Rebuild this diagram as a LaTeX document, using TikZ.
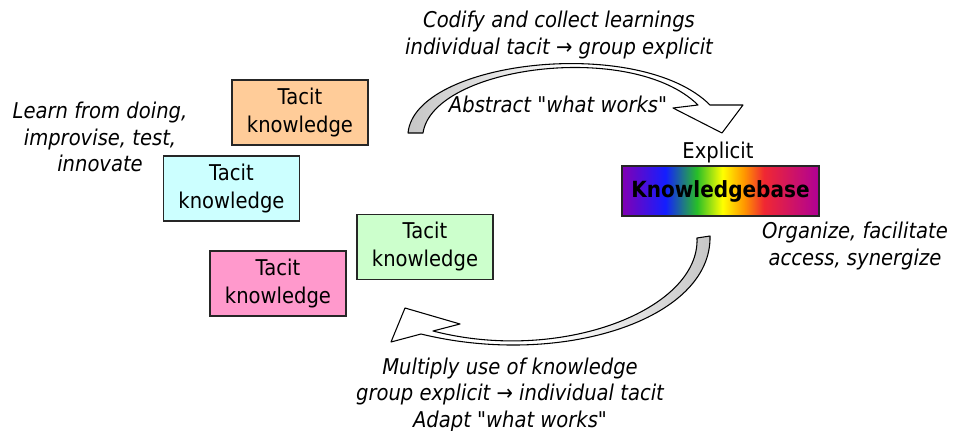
\documentclass[tikz,border=0pt]{standalone}
\usepackage{fontspec}
\setmainfont{DejaVu Sans}[FakeStretch=0.9, Ligatures=TeXOff]
\definecolor{kbA}{RGB}{130,0,180}
\definecolor{kbB}{RGB}{20,30,255}
\definecolor{kbC}{RGB}{40,190,40}
\definecolor{kbD}{RGB}{255,255,0}
\definecolor{kbE}{RGB}{255,150,0}
\definecolor{kbF}{RGB}{240,40,50}
\definecolor{kbG}{RGB}{175,0,150}
\definecolor{tacitOrange}{RGB}{255,204,153}
\definecolor{tacitCyan}{RGB}{204,255,255}
\definecolor{tacitGreen}{RGB}{204,255,204}
\definecolor{tacitPink}{RGB}{255,153,204}
\pgfdeclarehorizontalshading{rainbow}{100bp}{color(0bp)=(kbA); color(25bp)=(kbA); color(36bp)=(kbB); color(44bp)=(kbC); color(50.5bp)=(kbD); color(56bp)=(kbE); color(61bp)=(kbF); color(75bp)=(kbG); color(100bp)=(kbG)}
\newcommand{\dq}{\symbol{34}}
\begin{document}
\begin{tikzpicture}[x=0.75pt,y=-0.75pt,
  tbox/.style={draw=black!85, line width=0.9pt, minimum width=102pt, minimum height=48.75pt,
    align=center, inner sep=0pt, font=\fontsize{16.3}{21}\selectfont},
  lbl/.style={align=center, inner sep=0pt, font=\fontsize{16.3}{20}\selectfont\itshape},
  kbbox/.style={draw=black!85, line width=0.9pt, minimum width=147.75pt, minimum height=37.5pt,
    inner sep=0pt, shade, shading=rainbow, font=\fontsize{16.7}{18}\selectfont\bfseries},
  band/.style={draw=black, line width=0.8pt, line join=round}]
\useasboundingbox (0,0) rectangle (956,431);

% tacit knowledge boxes
\node[tbox, fill=tacitOrange] (orange) at (300,112.5) {Tacit\\knowledge};
\node[tbox, fill=tacitCyan] (cyan) at (231.5,188.5) {Tacit\\knowledge};
\node[tbox, fill=tacitGreen] (green) at (425,247) {Tacit\\knowledge};
\node[tbox, fill=tacitPink] (pink) at (278,283.5) {Tacit\\knowledge};

% knowledgebase
\node[font=\fontsize{16.3}{20}\selectfont, inner sep=0pt] (explicit) at (718,153) {Explicit};
\node[kbbox] (kb) at (720.5,191) {Knowledgebase};

% labels
\node[lbl] (codify) at (559,35) {Codify and collect learnings\\individual tacit → group explicit};
\node[lbl] (abstract) at (558,104) {Abstract \dq what works\dq};
\node[lbl] (learn) at (100,137) {Learn from doing,\\improvise, test,\\innovate};
\node[lbl] (organize) at (855,246) {Organize, facilitate\\access, synergize};
\node[lbl] (multiply) at (510,395) {Multiply use of knowledge\\group explicit → individual tacit\\Adapt \dq what works\dq};

% top curved arrow
\path[band, left color=gray!45, right color=white, middle color=white]
  (408,133) .. controls (415,60) and (640,35) .. (710,105)
  -- (743,105) -- (722,133) -- (673,108) -- (698,105)
  .. controls (632,40) and (433,66) .. (423,133) -- cycle;

% bottom curved arrow
\path[band, left color=white, right color=gray!45, middle color=white]
  (697,238) .. controls (700,310) and (560,364) .. (433,331)
  -- (460,324) -- (405,308) -- (391,342) -- (421,334)
  .. controls (560,368) and (712,320) .. (710,236) -- cycle;
\end{tikzpicture}
\end{document}
